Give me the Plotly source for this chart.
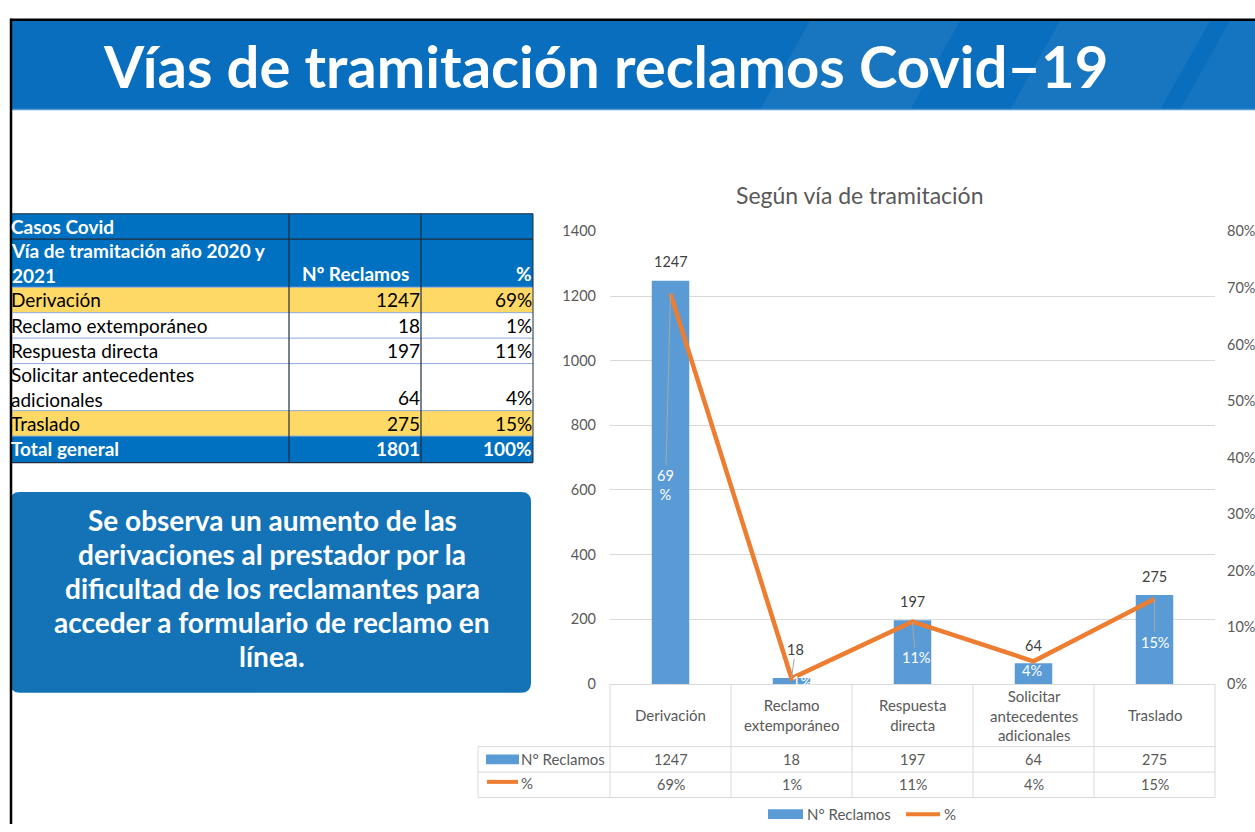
import plotly.graph_objects as go

# ---------------- data ----------------
categories = ["Derivación", "Reclamo extemporáneo", "Respuesta directa",
              "Solicitar antecedentes adicionales", "Traslado"]
category_labels = ["Derivación", "Reclamo<br>extemporáneo", "Respuesta<br>directa",
                   "Solicitar<br>antecedentes<br>adicionales", "Traslado"]
table_labels = ["Derivación", "Reclamo extemporáneo", "Respuesta directa",
                "Solicitar antecedentes<br>adicionales", "Traslado"]
reclamos = [1247, 18, 197, 64, 275]
porcentaje = [69, 1, 11, 4, 15]
total_reclamos = 1801
total_pct = 100
left_ticks = [0, 200, 400, 600, 800, 1000, 1200, 1400]
right_ticks = [0, 10, 20, 30, 40, 50, 60, 70, 80]

slide_title = "Vías de tramitación reclamos Covid–19"
chart_title = "Según vía de tramitación"
table_head1 = "Casos Covid"
table_head2 = "Vía de tramitación año 2020 y<br>2021"
col_reclamos = "Nº Reclamos"
col_pct = "%"
total_label = "Total general"
series_bar = "N° Reclamos"
series_line = "%"
note_lines = ["Se observa un aumento de las", "derivaciones al prestador por la",
              "dificultad de los reclamantes para", "acceder a formulario de reclamo en",
              "línea."]

# ---------------- layout helpers ----------------
W, H = 1255, 832
FONT = "Lato"
GRAY = "#595959"
BLUE_T = "#0070C0"
YELLOW = "#FFD966"
BAR_C = "#5B9BD5"
LINE_C = "#ED7D31"
GRID = "#D9D9D9"


def X(p):
    return p / W


def Y(p):
    return 1 - p / H


shapes = []
ann = []


def rect(x0, y0, x1, y1, fill, line=None, lw=0, layer="below", opacity=1):
    shapes.append(dict(type="rect", xref="paper", yref="paper",
                       x0=X(x0), x1=X(x1), y0=Y(y1), y1=Y(y0),
                       fillcolor=fill, opacity=opacity,
                       line=dict(width=lw, color=line or fill), layer=layer))


def hline(x0, x1, y, color, w=1, layer="above"):
    shapes.append(dict(type="line", xref="paper", yref="paper",
                       x0=X(x0), x1=X(x1), y0=Y(y), y1=Y(y),
                       line=dict(color=color, width=w), layer=layer))


def vline(x, y0, y1, color, w=1, layer="above"):
    shapes.append(dict(type="line", xref="paper", yref="paper",
                       x0=X(x), x1=X(x), y0=Y(y0), y1=Y(y1),
                       line=dict(color=color, width=w), layer=layer))


def path(pts, fill, opacity=1, layer="below"):
    d = "M " + " L ".join(f"{X(a):.5f},{Y(b):.5f}" for a, b in pts) + " Z"
    shapes.append(dict(type="path", xref="paper", yref="paper", path=d,
                       fillcolor=fill, opacity=opacity, line=dict(width=0), layer=layer))


def text(x, y, s, size, color="black", bold=False, xanchor="left", yanchor="middle",
         family=FONT, align="left"):
    ann.append(dict(xref="paper", yref="paper", x=X(x), y=Y(y), text=f"<b>{s}</b>" if bold else s,
                    showarrow=False, xanchor=xanchor, yanchor=yanchor, align=align,
                    font=dict(family=family, size=size, color=color)))


# ---------------- slide frame & banner ----------------
rect(12, 12, 1255, 103, "#0A6EBE")
for xb in (760, 1010):
    path([(xb, 103), (xb + 150, 103), (xb + 200, 12), (xb + 50, 12)], "white", opacity=0.06)
path([(1180, 103), (1255, 103), (1255, 12), (1230, 12)], "white", opacity=0.05)
hline(12, 1255, 102.5, "#4F9BD8", w=1.5)
hline(10, 1255, 11, "black", w=2.5)
vline(11, 10, 832, "black", w=2.5)
text(101, 58, slide_title, 58, color="white", bold=True)

# ---------------- left table ----------------
TX0, TC1, TC2, TX1 = 12, 289, 421, 533
rect(TX0, 209, TX1, 284, BLUE_T)
row_tops = [284, 310, 336, 362, 410]
row_bots = [310, 336, 362, 410, 436]
row_fill = [YELLOW, "white", "white", "white", YELLOW]
for i in range(5):
    rect(TX0, row_tops[i], TX1, row_bots[i], row_fill[i])
rect(TX0, 436, TX1, 463, BLUE_T)
hline(TX0, TX1, 209, "#1F2D3D", 1.2)
hline(TX0, TX1, 235, "#1F2D3D", 1.2)
hline(TX0, TX1, 284, "#8EA9DB", 1)
for yb in row_bots[:-1]:
    hline(TX0, TX1, yb, "#8EA9DB", 1)
hline(TX0, TX1, 436, "#8EA9DB", 1)
hline(TX0, TX1, 463, "#1F2D3D", 1.2)
for xv in (TC1, TC2):
    vline(xv, 209, 463, "#1F2D3D", 1.2)
vline(TX1, 209, 463, "#1F2D3D", 1)

TFS = 19
text(9, 222, table_head1, TFS, "white", bold=True)
text(9, 259, table_head2, TFS, "white", bold=True)
text((TC1 + TC2) / 2, 270, col_reclamos, TFS, "white", bold=True, xanchor="center")
text(TX1 + 1, 270, col_pct, TFS, "white", bold=True, xanchor="right")
for i in range(5):
    cy = (row_tops[i] + row_bots[i]) / 2
    vy = row_bots[i] - 13
    text(9, cy, table_labels[i], TFS, "black")
    text(TC2 + 1, vy, str(reclamos[i]), TFS, "black", xanchor="right")
    text(TX1 + 1, vy, f"{porcentaje[i]}%", TFS, "black", xanchor="right")
text(9, 449, total_label, TFS, "white", bold=True)
text(TC2 + 1, 449, str(total_reclamos), TFS, "white", bold=True, xanchor="right")
text(TX1 + 1, 449, f"{total_pct}%", TFS, "white", bold=True, xanchor="right")

# ---------------- note box ----------------
bx0, by0, bx1, by1, r = 10, 493, 531, 698, 10
d = (f"M {X(bx0 + r)},{Y(by0)} L {X(bx1 - r)},{Y(by0)} Q {X(bx1)},{Y(by0)} {X(bx1)},{Y(by0 + r)} "
     f"L {X(bx1)},{Y(by1 - r)} Q {X(bx1)},{Y(by1)} {X(bx1 - r)},{Y(by1)} "
     f"L {X(bx0 + r)},{Y(by1)} Q {X(bx0)},{Y(by1)} {X(bx0)},{Y(by1 - r)} "
     f"L {X(bx0)},{Y(by0 + r)} Q {X(bx0)},{Y(by0)} {X(bx0 + r)},{Y(by0)} Z")
shapes.append(dict(type="path", xref="paper", yref="paper", path=d, fillcolor="#1473B7",
                   line=dict(width=0), layer="below"))
for k, ln in enumerate(note_lines):
    text(272, 522 + 34.5 * k, ln, 28, "white", bold=True, xanchor="center", align="center")

# ---------------- chart ----------------
PX0, PX1, PY0, PY1 = 610, 1215, 689, 227
fig = go.Figure()
fig.add_trace(go.Bar(x=categories, y=reclamos, marker=dict(color=BAR_C, line=dict(width=0)),
                     width=0.31, name=series_bar, hoverinfo="x+y"))
fig.add_trace(go.Scatter(x=categories, y=[p / 100 for p in porcentaje], yaxis="y2",
                         mode="lines", line=dict(color=LINE_C, width=4.5), name=series_line))

text(859, 190, chart_title, 23, GRAY, xanchor="center")

# bar value labels
val_off = [(0, -19), (4, -29), (0, -19), (0, -18), (0, -19)]
val_lead = [False, True, False, False, False]
for i, c in enumerate(categories):
    ann.append(dict(xref="x", yref="y", x=c, y=reclamos[i], text=str(reclamos[i]),
                    showarrow=True, arrowhead=0, arrowwidth=1, standoff=0,
                    arrowcolor="#A6A6A6" if val_lead[i] else "rgba(0,0,0,0)",
                    ax=val_off[i][0], ay=val_off[i][1],
                    font=dict(family=FONT, size=14.5, color="#404040")))

# line (%) labels
pct_off = [(-5, 191), (10, 3), (3, 36), (-2, 9), (0, 43)]
pct_lead = [True, False, True, False, True]
pct_txt = [f"{p}%" for p in porcentaje]
pct_txt[0] = pct_txt[0][:-1] + "<br>%"
for i, c in enumerate(categories):
    ann.append(dict(xref="x", yref="y2", x=c, y=porcentaje[i] / 100, text=pct_txt[i],
                    showarrow=True, arrowhead=0, arrowwidth=1, standoff=0,
                    arrowcolor="#A6A6A6" if pct_lead[i] else "rgba(0,0,0,0)",
                    ax=pct_off[i][0], ay=pct_off[i][1],
                    font=dict(family=FONT, size=14.5, color="white")))

# data table under chart
col_edges = [PX0 + (PX1 - PX0) * k / 5 for k in range(6)]
for xe in col_edges:
    vline(xe, 689, 805, GRID)
vline(478, 753, 805, GRID)
for yy in (753, 779, 805):
    hline(478, PX1, yy, GRID)
for i, c in enumerate(categories):
    ann.append(dict(xref="x", yref="paper", x=c, y=Y(721), text=category_labels[i],
                    showarrow=False, yanchor="middle", align="center",
                    font=dict(family=FONT, size=15, color=GRAY)))
    ann.append(dict(xref="x", yref="paper", x=c, y=Y(766), text=str(reclamos[i]),
                    showarrow=False, yanchor="middle",
                    font=dict(family=FONT, size=14.5, color=GRAY)))
    ann.append(dict(xref="x", yref="paper", x=c, y=Y(792), text=f"{porcentaje[i]}%",
                    showarrow=False, yanchor="middle",
                    font=dict(family=FONT, size=14.5, color=GRAY)))
rect(486, 761, 519, 771, BAR_C, layer="above")
text(519, 766, series_bar, 15, GRAY)
hline(487, 518, 789, LINE_C, w=4)
text(519, 790, series_line, 15, GRAY)

# bottom legend (at the slide's lower edge)
rect(768, 817, 803, 827, BAR_C, layer="above")
text(805, 822, series_bar, 15, GRAY)
hline(906, 940, 822, LINE_C, w=4)
text(942, 822, series_line, 15, GRAY)

fig.update_layout(
    width=W, height=H, margin=dict(l=0, r=0, t=0, b=0),
    paper_bgcolor="white", plot_bgcolor="rgba(0,0,0,0)",
    showlegend=False, bargap=0.3,
    font=dict(family=FONT, color=GRAY),
    xaxis=dict(domain=[X(PX0), X(PX1)], type="category", range=[-0.5, 4.5],
               showticklabels=False, showline=True, linecolor=GRID, linewidth=1,
               showgrid=False, ticks="", fixedrange=True),
    yaxis=dict(domain=[Y(PY0), Y(PY1)], range=[0, 1400], tickvals=left_ticks,
               showgrid=True, gridcolor=GRID, gridwidth=1, zeroline=False, showline=False,
               ticks="", ticklabelstandoff=13, tickfont=dict(family=FONT, size=14.5, color=GRAY),
               fixedrange=True),
    yaxis2=dict(overlaying="y", side="right", anchor="x", range=[0, 0.8],
                tickvals=[t / 100 for t in right_ticks], ticktext=[f"{t}%" for t in right_ticks],
                showgrid=False, zeroline=False, showline=False, ticks="",
                ticklabelstandoff=11, tickfont=dict(family=FONT, size=14.5, color=GRAY),
                fixedrange=True),
    shapes=shapes, annotations=ann,
)

fig.write_html("out.html")
